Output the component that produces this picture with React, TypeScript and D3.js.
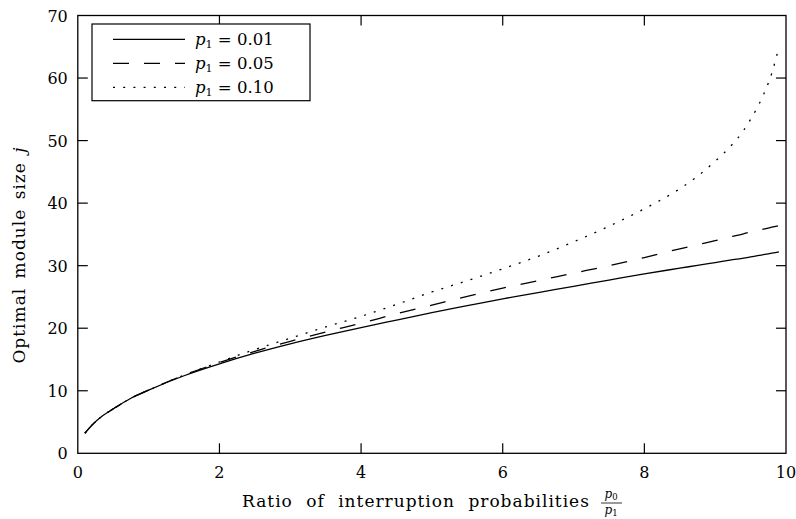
import React from "react";
import * as d3 from "d3";

const ratios = [0.1, 0.2, 0.35, 0.5, 0.75, 1, 1.5, 2, 2.5, 3, 3.5, 4, 4.5, 5, 5.5, 6, 6.5, 7, 7.5, 8, 8.5, 8.75, 9, 9.25, 9.4, 9.5, 9.6, 9.7, 9.8, 9.9];
const p001 = [3.2, 4.5, 6.0, 7.1, 8.8, 10.1, 12.4, 14.3, 16.0, 17.5, 18.85, 20.1, 21.3, 22.5, 23.6, 24.7, 25.7, 26.7, 27.7, 28.7, 29.6, 30.05, 30.5, 30.95, 31.2, 31.4, 31.6, 31.8, 32.0, 32.2];
const p005 = [3.2, 4.5, 6.0, 7.1, 8.8, 10.1, 12.5, 14.5, 16.3, 17.9, 19.4, 20.8, 22.3, 23.7, 25.1, 26.4, 27.6, 28.8, 30.0, 31.3, 32.7, 33.35, 34.0, 34.7, 35.1, 35.4, 35.65, 35.9, 36.15, 36.4];
const p010 = [3.2, 4.5, 6.0, 7.1, 8.8, 10.1, 12.5, 14.6, 16.6, 18.4, 20.2, 21.9, 23.8, 25.8, 27.6, 29.5, 31.5, 33.8, 36.3, 39.1, 42.3, 44.3, 46.7, 49.5, 51.6, 53.4, 55.4, 57.8, 60.8, 65.0];
const seriesLabels = ["0.01", "0.05", "0.10"];
const xTicks = [0, 2, 4, 6, 8, 10];
const yTicks = [0, 10, 20, 30, 40, 50, 60, 70];

const FONT = "'DejaVu Serif', 'Liberation Serif', serif";

export default function App() {
  const W = 796, H = 519;
  const x = d3.scaleLinear().domain([0, 10]).range([77.8, 786]);
  const y = d3.scaleLinear().domain([0, 70]).range([453.3, 15.5]);
  const series = [p001, p005, p010];
  const dashes = ["none", "16,15", "2,8.2"];
  const line = d3.line<number>()
    .x((_, i) => x(ratios[i]))
    .y((d) => y(d))
    .curve(d3.curveMonotoneX);
  const tickLen = 10;
  const x0 = x(0), x1 = x(10), y0 = y(0), y1 = y(70);

  return (
    <svg width={W} height={H} style={{ position: "absolute", left: 0, top: 0, background: "#fff" }}>
      <g fill="none" stroke="#000" strokeWidth={1.3}>
        {series.map((s, i) => (
          <path key={i} d={line(s) || ""} strokeDasharray={dashes[i]} />
        ))}
      </g>
      <rect x={x0} y={y1} width={x1 - x0} height={y0 - y1} fill="none" stroke="#000" strokeWidth={1.3} />
      <g stroke="#000" strokeWidth={1.2}>
        {xTicks.slice(1, -1).map((t) => (
          <g key={"xt" + t}>
            <line x1={x(t)} x2={x(t)} y1={y0} y2={y0 - tickLen} />
            <line x1={x(t)} x2={x(t)} y1={y1} y2={y1 + tickLen} />
          </g>
        ))}
        {yTicks.slice(1, -1).map((t) => (
          <g key={"yt" + t}>
            <line x1={x0} x2={x0 + tickLen} y1={y(t)} y2={y(t)} />
            <line x1={x1} x2={x1 - tickLen} y1={y(t)} y2={y(t)} />
          </g>
        ))}
      </g>
      <g fontFamily={FONT} fontSize={16} fill="#000">
        {xTicks.map((t) => (
          <text key={"xl" + t} x={x(t)} y={y0 + 25} textAnchor="middle">{t}</text>
        ))}
        {yTicks.map((t) => (
          <text key={"yl" + t} x={x0 - 10} y={y(t) + 6} textAnchor="end">{t}</text>
        ))}
        <text x={242} y={507} fontSize={17} letterSpacing={1} wordSpacing={7}>Ratio of interruption probabilities</text>
        <g fontSize={12}>
          <text x={611} y={498} textAnchor="middle"><tspan fontStyle="italic">p</tspan><tspan fontSize={8.5} dy={2}>0</tspan></text>
          <line x1={601} x2={622} y1={503} y2={503} stroke="#000" strokeWidth={0.8} />
          <text x={611} y={514} textAnchor="middle"><tspan fontStyle="italic">p</tspan><tspan fontSize={8.5} dy={2}>1</tspan></text>
        </g>
        <text transform="translate(25,255) rotate(-90)" textAnchor="middle" fontSize={17} letterSpacing={1} wordSpacing={3}>
          Optimal module size <tspan fontStyle="italic">j</tspan>
        </text>
      </g>
      <rect x={92} y={24} width={218} height={76.7} fill="#fff" stroke="#000" strokeWidth={1.2} />
      {seriesLabels.map((lab, i) => {
        const ly = 39.3 + i * 24;
        return (
          <g key={lab}>
            <line x1={113} x2={185} y1={ly} y2={ly} stroke="#000" strokeWidth={1.3} strokeDasharray={dashes[i]} />
            <text x={195} y={ly + 6} fontFamily={FONT} fontSize={16.5}>
              <tspan fontStyle="italic">p</tspan>
              <tspan fontSize={11} dy={3}>1</tspan>
              <tspan dy={-3}> = {lab}</tspan>
            </text>
          </g>
        );
      })}
    </svg>
  );
}
